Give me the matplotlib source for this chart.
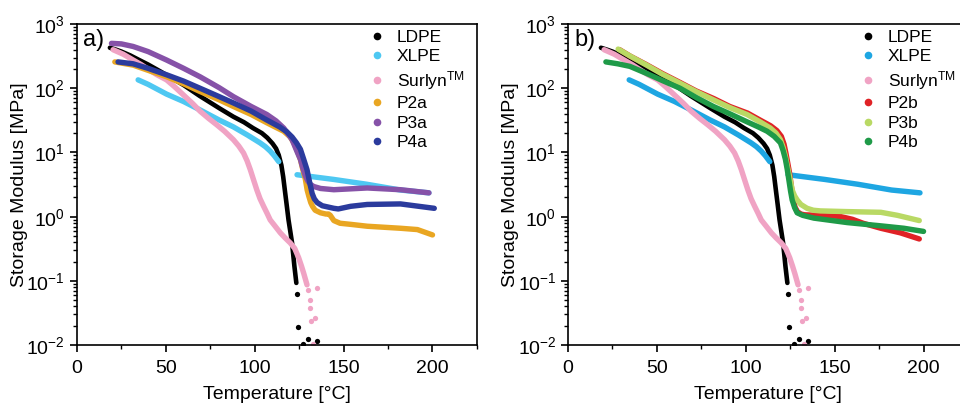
import numpy as np
import matplotlib.pyplot as plt
from matplotlib.lines import Line2D
from matplotlib.ticker import MultipleLocator, LogLocator

plt.rcParams['font.family'] = ['Liberation Sans', 'DejaVu Sans']
plt.rcParams['mathtext.fontset'] = 'custom'
plt.rcParams['mathtext.rm'] = 'Liberation Sans'
plt.rcParams['mathtext.it'] = 'Liberation Sans:italic'
plt.rcParams['mathtext.bf'] = 'Liberation Sans:bold'

# shared references (both panels)
ldpe_T = [18.5, 22, 25, 30, 35, 40, 47, 55, 60, 69, 80, 88, 94, 99, 104, 107, 110, 112,
          113.5, 115, 116, 117, 118, 119, 120, 121, 122.3, 123.4]
ldpe_E = [427, 398, 372, 324, 275, 234, 182, 135, 112, 76, 49, 36, 29.5, 24, 20, 17, 13.8, 11.5,
          9.1, 6.3, 4.2, 2.5, 1.5, 0.89, 0.59, 0.39, 0.17, 0.093]
ldpe_tail_T = [124.0, 124.4, 127.2, 129.8, 135.1]
ldpe_tail_E = [0.062, 0.019, 0.0105, 0.0126, 0.0116]

xlpe_T = [34.4, 40, 50.4, 60, 69.2, 80, 88, 96, 103, 106, 108.7, 111, 113.5,
          np.nan, 123.8, 144.5, 163, 182, 198]
xlpe_E = [135, 115, 81, 62, 46, 32, 25, 18.6, 14.1, 12.3, 10.5, 8.9, 7.2,
          np.nan, 4.5, 3.8, 3.2, 2.6, 2.35]

surlyn_T = [20.3, 26, 31.6, 36, 41, 45, 50.4, 55, 59.8, 65, 69.2, 74, 78.6, 83, 88, 91, 93.7,
            95.7, 97.5, 99.4, 101.2, 103, 105, 107, 108.7, 111.5, 114.4, 117, 120, 122.5,
            124.7, 126.3, 127.6, 129.4]
surlyn_E = [398, 339, 275, 234, 190, 162, 135, 105, 79, 58, 44, 34, 27, 21.4, 15.8, 12.6, 9.8,
            7.4, 5.4, 3.7, 2.6, 1.9, 1.45, 1.12, 0.89, 0.71, 0.56, 0.47, 0.39, 0.32,
            0.23, 0.17, 0.13, 0.087]
surlyn_tail_T = [130.0, 135.1, 130.9, 131.3, 131.9, 134.1, 132.8]
surlyn_tail_E = [0.071, 0.078, 0.051, 0.038, 0.024, 0.026, 0.0104]

# panel a
p2a_T = [21.3, 31.6, 40, 50.4, 60, 69.2, 80, 88, 98, 106.8, 112, 116.3, 120, 122, 124, 125.7,
         127, 128.5, 129.5, 130.4, 131.5, 132.5, 134, 137, 140, 141.5, 142.5, 144.5, 148,
         153.9, 163.3, 182.1, 191.5, 200]
p2a_E = [257, 229, 190, 151, 117, 89, 66, 52, 39, 29, 24.5, 21.4, 17.4, 14.1, 10.5, 7.8,
         5.5, 3.8, 2.6, 2.1, 1.66, 1.45, 1.26, 1.15, 1.1, 1.1, 1.05, 0.87, 0.79,
         0.76, 0.71, 0.66, 0.63, 0.52]
p3a_T = [19.4, 25, 31.6, 40, 50.4, 60, 69.2, 80, 88, 98, 106.8, 112, 116.3, 119, 121, 122.5,
         124, 125.7, 127, 128.5, 130, 131.5, 133.2, 137, 144.5, 163.3, 182, 198]
p3a_E = [500, 490, 447, 372, 275, 204, 151, 102, 74, 52, 39, 31, 24, 19, 15.8, 12.6,
         10, 7.8, 5.75, 4.3, 3.55, 3.16, 2.95, 2.75, 2.63, 2.8, 2.63, 2.35]
p4a_T = [23.1, 31.6, 40, 50.4, 60, 69.2, 80, 88, 98, 106.8, 114, 118, 121, 123.5, 125.7,
         127.5, 129.4, 131, 132.3, 133.5, 135.1, 138, 144.5, 147, 153.9, 163.3, 182, 201]
p4a_E = [257, 240, 204, 162, 129, 100, 74, 59, 44, 32, 25, 21, 17.4, 14.1, 11.2,
         7.9, 5.4, 3.3, 2.3, 1.9, 1.66, 1.48, 1.35, 1.32, 1.45, 1.55, 1.58, 1.35]

# panel b
p2b_T = [29, 35, 44, 53, 63, 72, 82, 91, 101, 108, 114, 117.5, 120, 121.5, 122.5, 123.5,
         124.5, 125.5, 126.5, 127.7, 129, 131, 133, 140, 153, 160, 166, 176, 187, 197.6]
p2b_E = [398, 316, 234, 170, 123, 91, 69, 52, 41, 32, 26, 21.9, 17.8, 13.5, 10, 7.1,
         5.0, 3.2, 2.0, 1.41, 1.2, 1.1, 1.07, 1.05, 1.01, 0.91, 0.79, 0.66, 0.56, 0.45]
p3b_T = [28.2, 35, 44.2, 53, 63, 72, 81.8, 91, 100.7, 108, 113.8, 117, 119.5, 121, 122.3,
         123.3, 124.2, 125.2, 126.1, 127.5, 128.9, 131, 134.5, 138, 142, 157, 176, 185.3, 197.6]
p3b_E = [407, 316, 229, 166, 120, 89, 66, 50, 39, 30, 24, 20, 15.8, 12, 8.7,
         6.3, 4.8, 3.55, 2.6, 2.1, 1.82, 1.55, 1.35, 1.26, 1.23, 1.2, 1.17, 1.05, 0.87]
p4b_T = [21.3, 28, 34.8, 44.2, 53, 63, 72, 81.8, 91, 100.7, 107, 112, 116, 119.5, 121, 122.3,
         123.3, 124.2, 125.2, 126.1, 127.5, 128.9, 132, 138.3, 157, 176, 189, 200]
p4b_E = [257, 240, 219, 170, 132, 100, 72, 52, 40, 30, 25, 21.4, 17.8, 14.1, 10.7, 7.8,
         5.5, 3.8, 2.5, 1.82, 1.38, 1.15, 1.05, 0.95, 0.81, 0.72, 0.66, 0.59]

black = 'black'
pink = '#f0a3c4'
lw = 3.9
line_kw = dict(lw=lw, solid_capstyle='round', solid_joinstyle='round')

fig = plt.figure(figsize=(9.6, 4.07), dpi=100)
axa = fig.add_axes([0.0802, 0.152, 0.4166, 0.789])
axb = fig.add_axes([0.5917, 0.152, 0.4166, 0.789])


def draw_refs(ax, xlpe_color):
    ax.plot(ldpe_T, ldpe_E, color=black, lw=lw - 0.6, solid_capstyle='round', solid_joinstyle='round')
    ax.plot(ldpe_tail_T, ldpe_tail_E, 'o', color=black, ms=3.8, mew=0)
    ax.plot(xlpe_T, xlpe_E, color=xlpe_color, **line_kw)
    ax.plot(surlyn_T, surlyn_E, color=pink, **line_kw)
    ax.plot(surlyn_tail_T, surlyn_tail_E, 'o', color=pink, ms=3.8, mew=0)


def style(ax, tag, names, colors):
    ax.set_yscale('log')
    ax.set_xlim(0, 225)
    ax.set_ylim(1e-2, 1e3)
    ax.xaxis.set_major_locator(MultipleLocator(50))
    ax.xaxis.set_minor_locator(MultipleLocator(25))
    ax.yaxis.set_major_locator(LogLocator(base=10, numticks=10))
    ax.yaxis.set_minor_locator(LogLocator(base=10, subs=np.arange(2, 10), numticks=10))
    ax.tick_params(which='both', direction='out', top=False, right=False, labelsize=14)
    ax.tick_params(which='major', length=5, width=1.2)
    ax.tick_params(which='minor', length=3, width=1.0)
    ax.tick_params(axis='x', which='major', pad=6)
    for s in ax.spines.values():
        s.set_linewidth(1.2)
    ax.set_xlabel('Temperature [°C]', fontsize=14, labelpad=6)
    ax.set_ylabel('Storage Modulus [MPa]', fontsize=14, labelpad=-1)
    ax.text(0.015, 0.985, tag, transform=ax.transAxes, fontsize=17, va='top', ha='left')
    handles = [Line2D([], [], ls='', marker='o', ms=5.5, mew=0, color=c) for c in colors]
    ax.legend(handles, names, loc='upper right', bbox_to_anchor=(1.0, 1.02), frameon=False,
              fontsize=12.5, handletextpad=0.55, labelspacing=0.25, handlelength=1.2,
              borderaxespad=0.3)


xlpe_a = '#4ec8f2'
p2a_c, p3a_c, p4a_c = '#e9a622', '#8652a8', '#2b3b9d'
draw_refs(axa, xlpe_a)
axa.plot(p2a_T, p2a_E, color=p2a_c, **line_kw)
axa.plot(p3a_T, p3a_E, color=p3a_c, **line_kw)
axa.plot(p4a_T, p4a_E, color=p4a_c, **line_kw)
style(axa, 'a)', ['LDPE', 'XLPE', 'Surlyn$^{\\mathrm{TM}}$', 'P2a', 'P3a', 'P4a'],
      [black, xlpe_a, pink, p2a_c, p3a_c, p4a_c])

xlpe_b = '#1ea6e2'
p2b_c, p3b_c, p4b_c = '#e02226', '#b9d964', '#1f9a48'
draw_refs(axb, xlpe_b)
axb.plot(p2b_T, p2b_E, color=p2b_c, **line_kw)
axb.plot(p3b_T, p3b_E, color=p3b_c, **line_kw)
axb.plot(p4b_T, p4b_E, color=p4b_c, **line_kw)
style(axb, 'b)', ['LDPE', 'XLPE', 'Surlyn$^{\\mathrm{TM}}$', 'P2b', 'P3b', 'P4b'],
      [black, xlpe_b, pink, p2b_c, p3b_c, p4b_c])
axb.spines['right'].set_visible(False)

fig.savefig('out.png', dpi=100)
